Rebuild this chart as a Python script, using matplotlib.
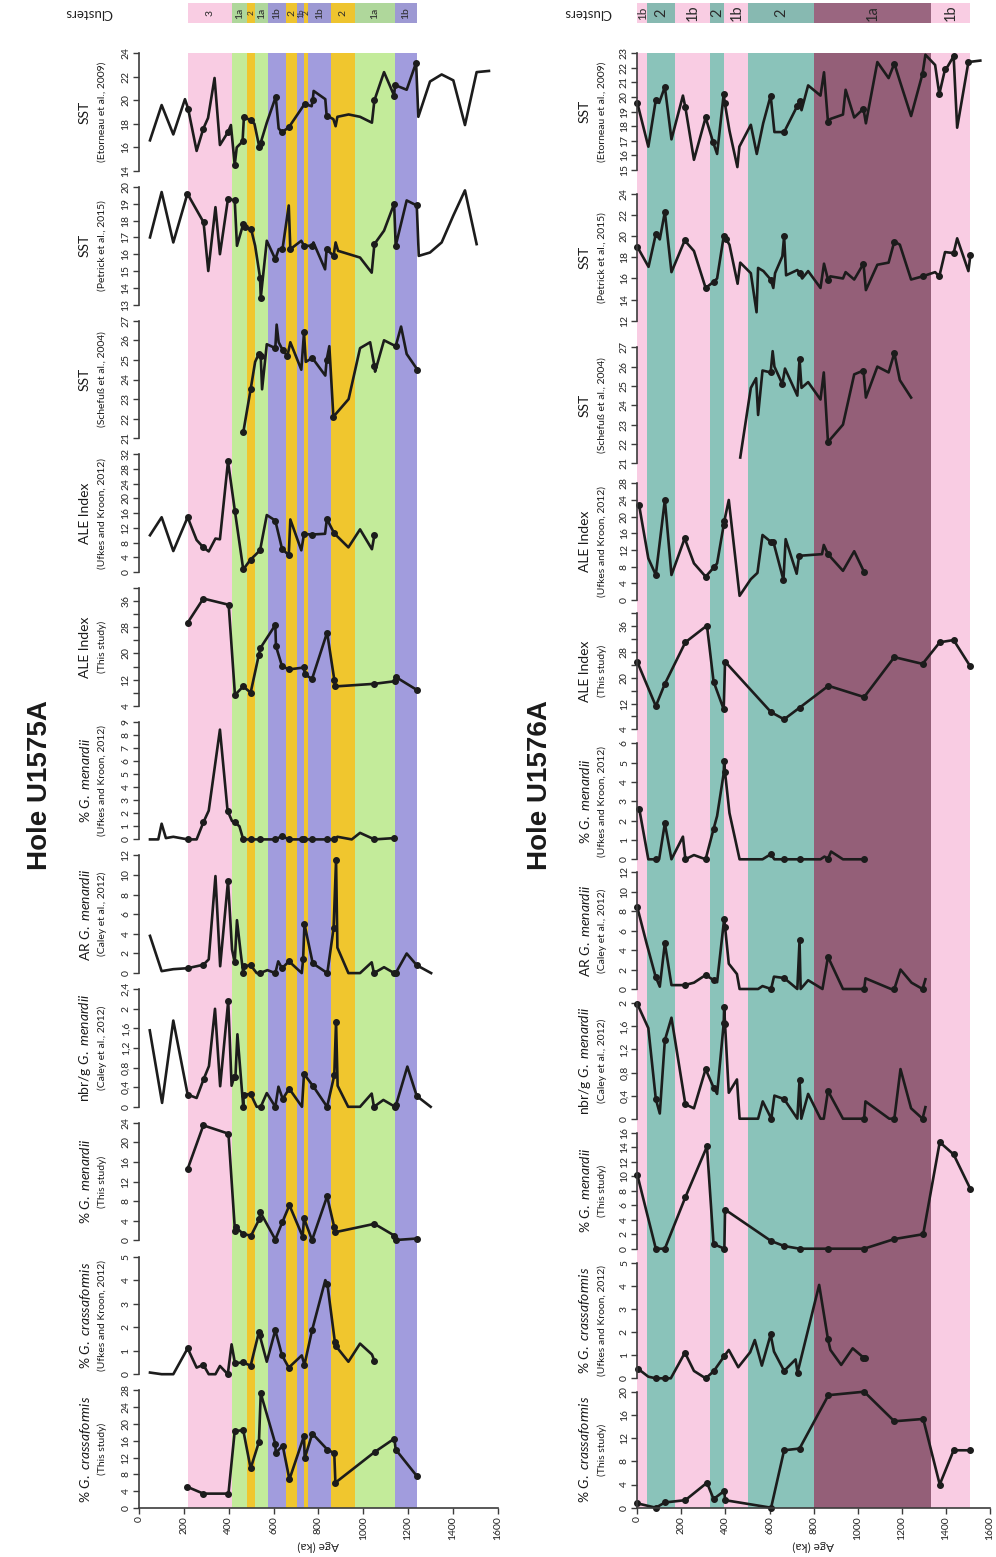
import numpy as np
import matplotlib.pyplot as plt
from matplotlib.ticker import FixedLocator, FixedFormatter

plt.rcParams['font.family'] = ['Lato', 'DejaVu Sans']
plt.rcParams['mathtext.fontset'] = 'custom'
plt.rcParams['mathtext.rm'] = 'Lato'
plt.rcParams['mathtext.it'] = 'Lato:italic'

W, H = 996, 1557
LINE = '#1c1c1c'
SPINE = '#3c3c3c'

# ---------------- Hole U1575A ----------------
sst_eto_75_age = [49, 101, 153, 205, 219, 257, 287, 308, 337, 361, 397, 410, 427, 436, 462, 468, 498, 515, 537, 543,
                  570, 610, 623, 638, 668, 739, 770, 775, 779, 831, 837, 867, 877, 885, 935, 986, 1039, 1050, 1093, 1138,
                  1142, 1194, 1236, 1246, 1298, 1350, 1402, 1454, 1506, 1561]
sst_eto_75_val = [16.6, 19.6, 17.1, 20.1, 19.3, 15.7, 17.6, 18.5, 21.9, 16.2, 17.3, 17.9, 14.5, 16.0, 16.5, 18.6, 18.3, 18.0, 16.0, 16.4,
                  18.1, 20.3, 17.6, 17.3, 17.7, 19.7, 19.5, 20.0, 20.8, 20.1, 18.7, 18.4, 17.8, 18.6, 18.8, 18.6, 18.1, 20.0, 22.4, 20.4,
                  21.3, 20.9, 23.2, 18.6, 21.6, 22.2, 21.7, 17.9, 22.4, 22.5]
sst_eto_75_dot = [0, 0, 0, 0, 1, 0, 1, 0, 0, 0, 1, 0, 1, 0, 1, 1, 1, 0, 1, 1,
                  0, 1, 0, 1, 1, 1, 0, 1, 0, 0, 1, 0, 0, 0, 0, 0, 0, 1, 0, 1,
                  1, 0, 1, 0, 0, 0, 0, 0, 0, 0]

sst_pet_75_age = [49, 101, 153, 216, 288, 309, 341, 361, 397, 427, 437, 465, 471, 500, 518, 540, 543, 570, 608, 623,
                  640, 668, 675, 724, 736, 773, 778, 830, 837, 868, 877, 888, 986, 1038, 1050, 1093, 1138, 1145, 1194, 1239,
                  1248, 1298, 1350, 1402, 1454, 1506]
sst_pet_75_val = [17.0, 19.7, 16.7, 19.6, 17.9, 15.0, 18.8, 16.0, 19.3, 19.2, 16.5, 17.8, 17.6, 17.5, 16.5, 14.6, 13.4, 16.8, 15.7, 16.3,
                  16.3, 18.9, 16.3, 16.8, 16.5, 16.5, 16.7, 15.1, 16.3, 15.9, 16.7, 16.2, 15.8, 14.9, 16.6, 17.4, 19.0, 16.5, 19.2, 18.9,
                  15.9, 16.1, 16.7, 18.3, 19.8, 16.6]
sst_pet_75_dot = [0, 0, 0, 1, 1, 0, 0, 0, 1, 1, 0, 1, 1, 1, 0, 1, 1, 0, 1, 0,
                  1, 0, 1, 0, 1, 1, 0, 0, 1, 1, 0, 0, 0, 0, 1, 0, 1, 1, 0, 1,
                  0, 0, 0, 0, 0, 0]

sst_sch_75_age = [465, 498, 518, 534, 543, 549, 570, 608, 614, 623, 641, 662, 675, 724, 736, 744, 773, 831, 837, 849,
                  867, 935, 986, 1031, 1050, 1053, 1093, 1145, 1169, 1194, 1242]
sst_sch_75_val = [21.3, 23.5, 24.9, 25.3, 25.2, 23.5, 25.8, 25.6, 26.8, 25.9, 25.5, 25.2, 25.9, 24.5, 26.4, 24.9, 25.1, 24.2, 25.0, 25.7,
                  22.1, 23.0, 25.6, 25.9, 24.7, 24.4, 26.0, 25.7, 26.7, 25.3, 24.5]
sst_sch_75_dot = [1, 1, 0, 1, 1, 0, 0, 1, 0, 0, 1, 1, 0, 0, 1, 0, 1, 0, 1, 0,
                  1, 0, 0, 0, 1, 0, 0, 1, 0, 0, 1]

ale_ufk_75_age = [49, 101, 153, 217, 257, 287, 311, 341, 361, 397, 428, 465, 498, 540, 570, 608, 638, 668, 675, 724,
                  736, 773, 830, 838, 871, 934, 986, 1039, 1050]
ale_ufk_75_val = [10.0, 14.9, 5.7, 14.9, 8.7, 6.7, 5.6, 9.1, 8.9, 30.1, 16.5, 0.7, 3.4, 5.9, 15.5, 14.0, 6.3, 4.6, 14.3, 5.9,
                  10.3, 10.2, 10.4, 14.4, 10.5, 6.7, 11.6, 6.2, 10.0]
ale_ufk_75_dot = [0, 0, 0, 1, 0, 1, 0, 0, 0, 1, 1, 1, 1, 1, 0, 1, 1, 1, 0, 0,
                  1, 1, 0, 1, 1, 0, 0, 0, 1]

ale_this_75_age = [217, 287, 400, 428, 465, 498, 534, 541, 608, 611, 638, 669, 736, 739, 772, 839, 871, 876, 1050, 1142,
                   1145, 1240]
ale_this_75_val = [29.4, 36.8, 34.9, 7.3, 9.9, 8.0, 19.4, 21.6, 28.7, 22.2, 16.1, 15.1, 15.7, 13.6, 12.2, 26.4, 12.0, 9.9, 10.7, 11.5,
                   12.8, 8.8]

men_ufk_75_age = [49, 86, 101, 120, 153, 217, 257, 287, 311, 361, 395, 415, 428, 448, 465, 498, 540, 608, 638, 669,
                  726, 736, 772, 839, 871, 885, 949, 986, 1050, 1139]
men_ufk_75_val = [0, 0, 1.2, 0.1, 0.2, 0, 0, 1.3, 2.2, 8.4, 2.2, 1.4, 1.3, 1.0, 0, 0, 0, 0, 0.25, 0,
                  0, 0, 0, 0, 0, 0.2, 0, 0.5, 0, 0.1]
men_ufk_75_dot = [0, 0, 0, 0, 0, 1, 0, 1, 0, 0, 1, 0, 1, 0, 1, 1, 1, 1, 1, 1,
                  1, 1, 1, 1, 1, 0, 0, 0, 1, 1]

ar_men_75_age = [49, 101, 153, 217, 287, 311, 341, 362, 397, 415, 427, 437, 454, 465, 467, 498, 525, 540, 573, 608,
                 621, 638, 669, 726, 732, 738, 775, 840, 868, 879, 885, 934, 986, 1038, 1048, 1093, 1138, 1145, 1194, 1239,
                 1303]
ar_men_75_val = [3.8, 0.2, 0.4, 0.5, 0.85, 1.4, 9.9, 0.7, 9.4, 2.4, 1.1, 5.4, 2.0, 0, 0.7, 0.8, 0, 0, 0.3, 0,
                 1.2, 0.5, 1.2, 0, 1.4, 5.0, 1.0, 0, 4.6, 11.5, 2.6, 0, 0, 1.1, 0, 0.6, 0, 0, 2.0, 0.8,
                 0]
ar_men_75_dot = [0, 0, 0, 1, 1, 0, 0, 0, 1, 0, 1, 0, 0, 1, 1, 1, 0, 1, 0, 1,
                 0, 1, 1, 0, 1, 1, 1, 1, 1, 1, 0, 0, 0, 0, 1, 0, 1, 1, 0, 1,
                 0]

nbr_men_75_age = [48, 103, 153, 217, 257, 288, 312, 339, 362, 398, 413, 424, 430, 439, 465, 467, 498, 525, 543, 570,
                  608, 622, 641, 670, 727, 736, 777, 839, 871, 879, 886, 933, 986, 1038, 1048, 1090, 1142, 1146, 1197, 1239,
                  1301]
nbr_men_75_val = [1.56, 0.08, 1.76, 0.25, 0.18, 0.56, 0.83, 2.0, 0.42, 2.16, 0.43, 0.6, 0.6, 1.48, 0, 0.25, 0.26, 0, 0, 0.28,
                  0, 0.41, 0.16, 0.37, 0, 0.67, 0.42, 0, 0.64, 1.74, 0.43, 0, 0, 0.27, 0, 0.14, 0, 0.03, 0.82, 0.22,
                  0]
nbr_men_75_dot = [0, 0, 0, 1, 0, 1, 0, 0, 0, 1, 0, 1, 1, 0, 1, 1, 1, 0, 1, 0,
                  1, 0, 1, 1, 0, 1, 1, 1, 1, 1, 0, 0, 0, 0, 1, 0, 1, 1, 0, 1,
                  0]

men_this_75_age = [217, 287, 399, 428, 433, 465, 500, 537, 541, 608, 639, 671, 730, 736, 772, 839, 871, 876, 1050, 1139,
                   1145, 1240]
men_this_75_val = [14.6, 23.5, 21.8, 2.0, 2.7, 1.3, 1.0, 4.4, 5.8, 0.2, 3.7, 7.2, 0.8, 4.5, 0.1, 9.0, 2.7, 1.7, 3.4, 1.0,
                   0.1, 0.4]

cra_ufk_75_age = [49, 101, 153, 217, 257, 287, 311, 341, 361, 396, 413, 428, 465, 498, 535, 538, 570, 608, 638, 668,
                  726, 738, 772, 831, 840, 874, 878, 934, 986, 1039, 1050]
cra_ufk_75_val = [0.07, 0, 0, 1.1, 0.28, 0.4, 0, 0, 0.35, 0, 1.27, 0.47, 0.5, 0.36, 1.8, 1.67, 0.53, 1.87, 0.8, 0.28,
                  0.8, 0.4, 1.87, 4.0, 3.85, 1.35, 1.2, 0.53, 1.3, 0.84, 0.57]
cra_ufk_75_dot = [0, 0, 0, 1, 0, 1, 0, 0, 0, 1, 0, 1, 1, 1, 1, 1, 0, 1, 1, 1,
                  0, 1, 1, 0, 1, 1, 1, 0, 0, 0, 1]

cra_this_75_age = [216, 287, 399, 427, 465, 498, 535, 543, 608, 610, 641, 671, 736, 739, 773, 840, 871, 876, 1051, 1139,
                   1145, 1239]
cra_this_75_val = [5.0, 3.4, 3.4, 18.3, 18.5, 9.4, 15.7, 27.3, 15.3, 13.1, 14.8, 6.8, 17.1, 11.8, 17.7, 13.9, 13.0, 6.0, 13.3, 16.5,
                   13.9, 7.6]

clusters_75_lo = [219, 415, 482, 517, 575, 656, 705, 737, 755, 855, 964, 1142]
clusters_75_hi = [415, 482, 517, 575, 656, 705, 737, 755, 855, 964, 1142, 1240]
clusters_75_name = ['3', '1a', '2', '1a', '1b', '2', '1b', '2', '1b', '2', '1a', '1b']

# ---------------- Hole U1576A ----------------
sst_eto_76_age = [0, 50, 84, 99, 125, 155, 207, 218, 257, 310, 344, 362, 392, 397, 418, 454, 463, 515, 542, 571,
                  605, 622, 666, 726, 736, 745, 775, 831, 847, 865, 876, 933, 945, 984, 1026, 1037, 1089, 1140, 1166, 1191,
                  1242, 1294, 1307, 1351, 1370, 1396, 1408, 1435, 1451, 1502, 1556]
sst_eto_76_val = [19.6, 16.6, 19.8, 19.6, 20.7, 17.1, 20.1, 19.3, 15.7, 18.6, 16.9, 16.1, 20.2, 19.6, 17.7, 15.2, 16.6, 18.1, 16.1, 18.2,
                  20.1, 17.6, 17.6, 19.4, 19.7, 19.1, 20.8, 20.1, 21.7, 18.3, 18.5, 18.8, 20.5, 18.6, 19.2, 18.2, 22.4, 21.3, 22.3, 21.1,
                  18.7, 21.6, 22.9, 22.2, 20.2, 21.9, 22.1, 22.8, 17.9, 22.4, 22.5]
sst_eto_76_dot = [1, 0, 1, 0, 1, 0, 0, 1, 0, 1, 1, 0, 1, 1, 0, 0, 0, 0, 0, 0,
                  1, 0, 1, 1, 1, 0, 0, 0, 0, 1, 0, 0, 0, 0, 1, 0, 0, 0, 1, 0,
                  0, 1, 0, 0, 1, 1, 0, 1, 0, 1, 0]

sst_pet_76_age = [0, 51, 84, 102, 125, 155, 215, 257, 310, 347, 362, 392, 403, 418, 455, 467, 515, 541, 548, 572,
                  605, 617, 625, 658, 666, 675, 726, 736, 748, 775, 831, 847, 865, 876, 933, 945, 984, 1026, 1037, 1089,
                  1140, 1166, 1191, 1242, 1294, 1351, 1370, 1396, 1435, 1451, 1502, 1511]
sst_pet_76_val = [19.0, 17.1, 20.2, 19.7, 22.3, 16.6, 19.6, 18.6, 15.1, 15.7, 16.0, 20.0, 19.7, 19.2, 15.5, 17.5, 16.5, 12.8, 17.0, 16.7,
                  15.9, 15.1, 16.5, 18.1, 20.0, 16.3, 16.8, 16.5, 16.0, 16.7, 15.1, 17.4, 15.9, 16.2, 16.0, 16.6, 15.9, 17.4, 14.9, 17.3,
                  17.5, 19.5, 19.2, 15.9, 16.2, 16.6, 16.2, 18.5, 18.4, 19.8, 16.7, 18.2]
sst_pet_76_dot = [1, 0, 1, 0, 1, 0, 1, 0, 1, 1, 0, 1, 1, 0, 0, 0, 0, 0, 0, 0,
                  1, 0, 0, 0, 1, 0, 0, 1, 0, 0, 0, 0, 1, 0, 0, 0, 0, 1, 0, 0,
                  0, 1, 0, 0, 1, 0, 1, 0, 1, 0, 0, 1]

sst_sch_76_age = [467, 515, 539, 548, 568, 605, 614, 622, 658, 670, 726, 736, 745, 775, 831, 846, 865, 933, 984, 1026,
                  1037, 1089, 1140, 1166, 1191, 1242]
sst_sch_76_val = [21.3, 24.9, 25.4, 23.5, 25.8, 25.7, 26.8, 26.0, 25.1, 25.9, 24.5, 26.4, 24.9, 25.2, 24.3, 25.7, 22.1, 23.0, 25.6, 25.8,
                  24.4, 26.0, 25.7, 26.7, 25.3, 24.4]
sst_sch_76_dot = [0, 0, 0, 0, 0, 1, 0, 0, 1, 0, 0, 1, 0, 0, 0, 0, 1, 0, 0, 1,
                  0, 0, 0, 1, 0, 0]

ale_ufk_76_age = [8, 50, 84, 125, 155, 215, 257, 310, 347, 362, 392, 395, 415, 464, 515, 545, 568, 605, 617, 663,
                  673, 723, 734, 838, 846, 865, 933, 984, 1029]
ale_ufk_76_val = [22.8, 10.0, 6.0, 24.0, 6.0, 14.8, 8.8, 5.6, 7.8, 8.8, 18.0, 19.0, 24.0, 1.0, 5.0, 6.5, 15.6, 14.0, 14.0, 4.8,
                  14.6, 6.3, 10.6, 11.0, 13.2, 11.0, 7.0, 11.7, 6.7]
ale_ufk_76_dot = [1, 0, 1, 1, 0, 1, 0, 1, 1, 0, 1, 1, 0, 0, 0, 0, 0, 1, 1, 1,
                  0, 0, 1, 0, 0, 1, 0, 0, 1]

ale_this_76_age = [0, 84, 125, 218, 316, 346, 392, 398, 607, 666, 736, 867, 1029, 1166, 1294, 1372, 1435, 1508]
ale_this_76_val = [24.9, 11.2, 18.1, 31.0, 36.2, 18.8, 10.2, 25.0, 9.3, 7.1, 10.7, 17.5, 14.0, 26.4, 24.3, 31.0, 31.7, 23.8]

men_ufk_76_age = [9, 50, 84, 99, 125, 155, 207, 218, 257, 310, 346, 362, 392, 394, 398, 418, 464, 568, 605, 622,
                  666, 736, 831, 849, 865, 879, 933, 1029]
men_ufk_76_val = [2.6, 0, 0, 0, 1.86, 0, 1.17, 0, 0.22, 0, 1.57, 2.24, 4.45, 5.1, 4.5, 2.4, 0, 0, 0.26, 0,
                  0, 0, 0, 0.14, 0.03, 0.4, 0, 0]
men_ufk_76_dot = [1, 0, 1, 0, 1, 0, 0, 1, 0, 1, 1, 0, 0, 1, 1, 0, 0, 0, 1, 0,
                  1, 1, 0, 0, 1, 0, 0, 1]

ar_men_76_age = [0, 42, 83, 102, 125, 155, 215, 257, 310, 347, 362, 394, 398, 415, 452, 464, 548, 568, 607, 620,
                 666, 726, 736, 741, 775, 840, 865, 933, 1029, 1035, 1151, 1166, 1194, 1244, 1294, 1307]
ar_men_76_val = [8.4, 4.7, 1.27, 0.24, 4.7, 0.4, 0.4, 0.65, 1.44, 0.9, 0.7, 7.2, 6.4, 2.6, 1.54, 0, 0, 0.3, 0, 1.27,
                 1.13, 0, 5.0, 0, 0.9, 0, 3.3, 0, 0, 1.1, 0, 0, 2.0, 0.65, 0, 1.0]
ar_men_76_dot = [1, 0, 1, 0, 1, 0, 1, 0, 1, 1, 0, 1, 1, 0, 0, 0, 0, 0, 1, 0,
                 1, 0, 1, 0, 0, 0, 1, 0, 1, 0, 0, 1, 0, 0, 1, 0]

nbr_men_76_age = [0, 50, 84, 102, 125, 155, 218, 257, 310, 346, 362, 392, 394, 398, 415, 452, 464, 548, 569, 608,
                  622, 666, 726, 736, 744, 775, 831, 846, 865, 933, 1029, 1035, 1143, 1166, 1194, 1242, 1294, 1307]
nbr_men_76_val = [1.99, 1.57, 0.34, 0.09, 1.36, 1.75, 0.25, 0.18, 0.86, 0.54, 0.43, 1.65, 1.94, 1.64, 0.45, 0.68, 0, 0, 0.3, 0,
                  0.4, 0.34, 0, 0.67, 0, 0.43, 0, 0, 0.48, 0, 0, 0.3, 0, 0, 0.86, 0.18, 0, 0.2]
nbr_men_76_dot = [1, 0, 1, 0, 1, 0, 1, 0, 1, 1, 0, 1, 1, 1, 0, 0, 0, 0, 0, 1,
                  0, 1, 0, 1, 0, 0, 0, 0, 1, 0, 1, 0, 0, 1, 0, 0, 1, 0]

men_this_76_age = [0, 84, 125, 218, 316, 346, 395, 398, 607, 666, 736, 867, 1029, 1166, 1297, 1372, 1435, 1510]
men_this_76_val = [10.2, 0, 0, 7.1, 14.1, 0.64, 0, 5.4, 1.06, 0.37, 0, 0, 0, 1.33, 2.0, 14.7, 13.0, 8.3]

cra_ufk_76_age = [5, 50, 84, 125, 152, 216, 257, 310, 346, 395, 415, 458, 512, 533, 565, 605, 620, 666, 718, 727,
                  825, 865, 876, 925, 977, 1026, 1031]
cra_ufk_76_val = [0.4, 0.07, 0, 0, 0, 1.11, 0.32, 0, 0.3, 0.97, 1.23, 0.48, 1.13, 1.66, 0.55, 1.9, 1.16, 0.32, 0.82, 0.25,
                  4.05, 1.69, 1.23, 0.58, 1.3, 0.9, 0.87]
cra_ufk_76_dot = [1, 0, 1, 1, 0, 1, 0, 1, 1, 1, 0, 0, 0, 0, 0, 1, 0, 1, 0, 1,
                  0, 1, 0, 0, 0, 1, 1]

cra_this_76_age = [0, 84, 125, 218, 316, 346, 395, 398, 607, 666, 736, 867, 1029, 1166, 1297, 1372, 1435, 1510]
cra_this_76_val = [0.75, 0, 0.9, 1.3, 4.3, 1.5, 2.9, 1.3, 0, 9.9, 10.2, 19.4, 20.0, 14.9, 15.3, 4.0, 9.9, 9.9]

clusters_76_lo = [0, 44, 171, 332, 395, 503, 802, 1333]
clusters_76_hi = [44, 171, 332, 395, 503, 802, 1333, 1508]
clusters_76_name = ['1b', '2', '1b', '2', '1b', '2', '1a', '1b']

# ---------------- labels ----------------
track_titles = ['SST', 'SST', 'SST', 'ALE Index', 'ALE Index',
                r'% $\mathit{G.\ menardii}$', r'AR $\mathit{G.\ menardii}$', r'nbr/g $\mathit{G.\ menardii}$',
                r'% $\mathit{G.\ menardii}$', r'% $\mathit{G.\ crassaformis}$', r'% $\mathit{G.\ crassaformis}$']
track_sources = ['(Etorneau et al., 2009)', '(Petrick et al., 2015)', '(Schefuß et al., 2004)',
                 '(Ufkes and Kroon, 2012)', '(This study)', '(Ufkes and Kroon, 2012)', '(Caley et al., 2012)',
                 '(Caley et al., 2012)', '(This study)', '(Ufkes and Kroon, 2012)', '(This study)']

band_colors = {'3': '#f9cce3', '1a': '#c3eb9a', '2': '#f0c62e', '1b': '#a19cdd'}
strip_colors = {'3': '#f9cde3', '1a': '#afd79b', '2': '#eec42f', '1b': '#9d99d3'}
band_colors_76 = {'1b': '#f9cce3', '2': '#8ac3ba', '1a': '#945f78'}
strip_colors_76 = {'1b': '#f9cde3', '2': '#87b9b1', '1a': '#9a6680'}

panels = [
    dict(title='Hole U1575A', x0=139, x1=497.7, title_x=40, lab_x=85, src_x=102,
         tops=[53.3 + k * 133.7 for k in range(11)],
         bots=[53.3 + k * 133.7 + 117.6 for k in range(11)],
         lims=[(14, 24), (13, 20), (21, 27), (0, 32), (4, 40), (0, 9), (0, 12), (0, 2.4), (0, 24), (0, 5), (0, 28)],
         steps=[2, 1, 1, 4, 4, 1, 2, 0.4, 4, 1, 4],
         series=[(sst_eto_75_age, sst_eto_75_val, sst_eto_75_dot),
                 (sst_pet_75_age, sst_pet_75_val, sst_pet_75_dot),
                 (sst_sch_75_age, sst_sch_75_val, sst_sch_75_dot),
                 (ale_ufk_75_age, ale_ufk_75_val, ale_ufk_75_dot),
                 (ale_this_75_age, ale_this_75_val, None),
                 (men_ufk_75_age, men_ufk_75_val, men_ufk_75_dot),
                 (ar_men_75_age, ar_men_75_val, ar_men_75_dot),
                 (nbr_men_75_age, nbr_men_75_val, nbr_men_75_dot),
                 (men_this_75_age, men_this_75_val, None),
                 (cra_ufk_75_age, cra_ufk_75_val, cra_ufk_75_dot),
                 (cra_this_75_age, cra_this_75_val, None)],
         clusters=(clusters_75_lo, clusters_75_hi, clusters_75_name),
         bands=band_colors, strips=strip_colors, csize=7.5),
    dict(title='Hole U1576A', x0=637.3, x1=990, title_x=540, lab_x=585, src_x=602,
         tops=[53.3, 194, 347.3, 483.3, 613.3, 743.3, 872.3, 1003.3, 1132.7, 1263, 1391.7],
         bots=[170, 320.7, 463.3, 600, 729.3, 859.3, 989, 1118.7, 1248.7, 1378.3, 1507.7],
         lims=[(15, 23), (12, 24), (21, 27), (0, 28), (4, 40), (0, 6), (0, 12), (0, 2), (0, 16), (0, 5), (0, 20)],
         steps=[1, 2, 1, 4, 4, 1, 2, 0.4, 2, 1, 4],
         series=[(sst_eto_76_age, sst_eto_76_val, sst_eto_76_dot),
                 (sst_pet_76_age, sst_pet_76_val, sst_pet_76_dot),
                 (sst_sch_76_age, sst_sch_76_val, sst_sch_76_dot),
                 (ale_ufk_76_age, ale_ufk_76_val, ale_ufk_76_dot),
                 (ale_this_76_age, ale_this_76_val, None),
                 (men_ufk_76_age, men_ufk_76_val, men_ufk_76_dot),
                 (ar_men_76_age, ar_men_76_val, ar_men_76_dot),
                 (nbr_men_76_age, nbr_men_76_val, nbr_men_76_dot),
                 (men_this_76_age, men_this_76_val, None),
                 (cra_ufk_76_age, cra_ufk_76_val, cra_ufk_76_dot),
                 (cra_this_76_age, cra_this_76_val, None)],
         clusters=(clusters_76_lo, clusters_76_hi, clusters_76_name),
         bands=band_colors_76, strips=strip_colors_76, csize=10.5),
]

fig = plt.figure(figsize=(W / 100, H / 100), dpi=100)


def px_axes(x0, x1, y0, y1):
    return fig.add_axes([x0 / W, 1 - y1 / H, (x1 - x0) / W, (y1 - y0) / H])


def tick_text(v):
    s = f"{v:.1f}".rstrip('0').rstrip('.')
    return s.replace('.', ',')


for p in panels:
    x0, x1 = p['x0'], p['x1']
    lo_list, hi_list, names = p['clusters']

    # background bands behind all tracks
    bg = px_axes(x0, x1, p['tops'][0], p['bots'][-1])
    bg.set_xlim(0, 1600)
    bg.axis('off')
    for lo, hi, nm in zip(lo_list, hi_list, names):
        bg.axvspan(lo, hi, color=p['bands'][nm], lw=0)

    # cluster strip
    st = px_axes(x0, x1, 3, 23)
    st.set_xlim(0, 1600)
    st.set_ylim(0, 1)
    st.axis('off')
    for lo, hi, nm in zip(lo_list, hi_list, names):
        st.axvspan(lo, hi, color=p['strips'][nm], lw=0)
        size = p['csize'] if hi - lo > 45 else p['csize'] * 0.8
        st.text((lo + hi) / 2, 0.5, nm, rotation=90, ha='center', va='center',
                fontsize=size, color='#2a2a2a')
    fig.text((x0 - 50) / W, 1 - 13 / H, 'Clusters', rotation=180, ha='center', va='center',
             fontsize=9.5, color='#222222')

    fig.text(p['title_x'] / W, 1 - 785 / H, p['title'], rotation=90, ha='center', va='center',
             fontsize=20, fontweight='bold', family='Liberation Sans', color='#1a1a1a')

    for k in range(11):
        top, bot = p['tops'][k], p['bots'][k]
        ax = px_axes(x0, x1, top, bot)
        ax.set_facecolor('none')
        ax.set_xlim(0, 1600)
        lo, hi = p['lims'][k]
        ax.set_ylim(lo, hi)
        for side in ['top', 'right', 'bottom']:
            ax.spines[side].set_visible(False)
        ax.spines['left'].set_color(SPINE)
        ax.spines['left'].set_linewidth(1.2)

        step = p['steps'][k]
        ticks = np.round(np.arange(lo, hi + step / 2, step), 2)
        if k == 4:
            labels = [tick_text(t) if (t - 4) % 8 == 0 else '' for t in ticks]
        else:
            labels = [tick_text(t) for t in ticks]
        ax.yaxis.set_major_locator(FixedLocator(ticks))
        ax.yaxis.set_major_formatter(FixedFormatter(labels))
        ax.tick_params(axis='y', direction='out', length=4, width=1, color=SPINE,
                       labelsize=7.5, pad=2, labelrotation=90, labelcolor='#222222')
        for lab in ax.get_yticklabels():
            lab.set_va('center')

        if k == 10:
            ax.spines['bottom'].set_visible(True)
            ax.spines['bottom'].set_color(SPINE)
            ax.spines['bottom'].set_linewidth(1.2)
            ax.set_xticks(np.arange(0, 1601, 200))
            ax.tick_params(axis='x', direction='out', length=4, width=1, color=SPINE,
                           labelsize=7.5, pad=2, labelrotation=90, labelcolor='#222222')
        else:
            ax.set_xticks([])

        age, val, dot = p['series'][k]
        age = np.asarray(age, float)
        val = np.asarray(val, float)
        ax.plot(age, val, color=LINE, lw=1.9, clip_on=False)
        mask = np.ones(len(age), bool) if dot is None else np.asarray(dot, bool)
        ax.plot(age[mask], val[mask], 'o', ms=4, color=LINE, clip_on=False)

        yc = 1 - (top + bot) / 2 / H
        fig.text(p['lab_x'] / W, yc, track_titles[k], rotation=90, ha='center', va='center',
                 fontsize=10, color='#1a1a1a')
        fig.text(p['src_x'] / W, yc, track_sources[k], rotation=90, ha='center', va='center',
                 fontsize=7.5, color='#1a1a1a')

    fig.text((x0 + x1) / 2 / W, 1 - 1546 / H, 'Age (ka)', rotation=180, ha='center', va='center',
             fontsize=8.5, color='#222222')

fig.savefig('out.png', dpi=100)
plt.close()
